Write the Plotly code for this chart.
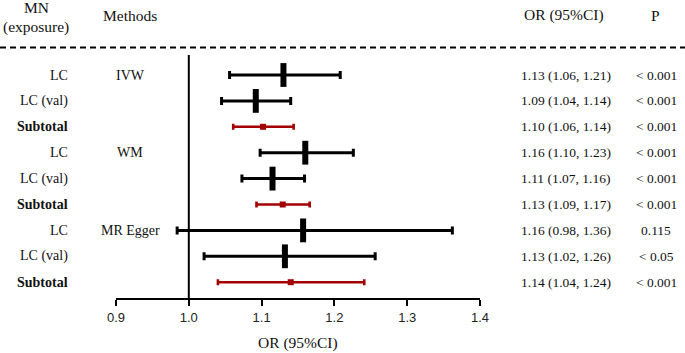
import plotly.graph_objects as go

# ---------------- data ----------------
exposure = ["LC", "LC (val)", "Subtotal", "LC", "LC (val)", "Subtotal", "LC", "LC (val)", "Subtotal"]
methods = ["IVW", "", "", "WM", "", "", "MR Egger", "", ""]
or_est = [1.130, 1.092, 1.102, 1.160, 1.115, 1.129, 1.157, 1.132, 1.140]
ci_low = [1.056, 1.045, 1.061, 1.098, 1.073, 1.093, 0.984, 1.021, 1.040]
ci_high = [1.208, 1.140, 1.144, 1.226, 1.159, 1.166, 1.362, 1.256, 1.241]
or_text = ["1.13 (1.06, 1.21)", "1.09 (1.04, 1.14)", "1.10 (1.06, 1.14)",
           "1.16 (1.10, 1.23)", "1.11 (1.07, 1.16)", "1.13 (1.09, 1.17)",
           "1.16 (0.98, 1.36)", "1.13 (1.02, 1.26)", "1.14 (1.04, 1.24)"]
p_text = ["< 0.001", "< 0.001", "< 0.001", "< 0.001", "< 0.001", "< 0.001",
          "0.115", "< 0.05", "< 0.001"]
tick_vals = [0.9, 1.0, 1.1, 1.2, 1.3, 1.4]
tick_text = ["0.9", "1.0", "1.1", "1.2", "1.3", "1.4"]

# ---------------- layout constants ----------------
W, H = 685, 353
ML, MR, MT, MB = 116, 205, 55, 55
PW, PH = W - ML - MR, H - MT - MB
RED = "#A30000"
TXT = "#111111"
SERIF = "Liberation Serif, Times New Roman, serif"
SANS = "Liberation Sans, Arial, sans-serif"


def px_x(px):
    return (px - ML) / PW


def px_y(py):
    return 1 - (py - MT) / PH


rows = list(range(1, len(exposure) + 1))
sub = [e == "Subtotal" for e in exposure]

fig = go.Figure()


def add_group(mask, color, thick, capw, marker):
    xs = [v for v, m in zip(or_est, mask) if m]
    ys = [r for r, m in zip(rows, mask) if m]
    plus = [h - v for v, h, m in zip(or_est, ci_high, mask) if m]
    minus = [v - l for v, l, m in zip(or_est, ci_low, mask) if m]
    fig.add_trace(go.Scatter(
        x=xs, y=ys, mode="markers", cliponaxis=False, showlegend=False,
        error_x=dict(type="data", symmetric=False, array=plus, arrayminus=minus,
                     color=color, thickness=thick, width=capw),
        marker=marker,
    ))


add_group([not s for s in sub], "black", 3, 4,
          dict(symbol="line-ns", size=17, line=dict(width=6, color="black"), color="black"))
add_group(sub, RED, 2.6, 3,
          dict(symbol="square", size=6, color=RED, line=dict(width=0)))

annotations = []
# left labels
for r, e, m in zip(rows, exposure, methods):
    annotations.append(dict(
        x=px_x(70), xref="paper", y=r, yref="y", xanchor="right", yanchor="middle",
        text=f"<b>{e}</b>" if e == "Subtotal" else e, showarrow=False,
        font=dict(family=SERIF, size=14, color=TXT)))
    if m:
        annotations.append(dict(
            x=px_x(130), xref="paper", y=r, yref="y", xanchor="center", yanchor="middle",
            text=m, showarrow=False, font=dict(family=SERIF, size=14, color=TXT)))
for r, o, p in zip(rows, or_text, p_text):
    annotations.append(dict(
        x=px_x(566), xref="paper", y=r, yref="y", xanchor="center", yanchor="middle",
        text=o, showarrow=False, font=dict(family=SERIF, size=13.5, color=TXT)))
    annotations.append(dict(
        x=px_x(656), xref="paper", y=r, yref="y", xanchor="center", yanchor="middle",
        text=p, showarrow=False, font=dict(family=SERIF, size=13.5, color=TXT)))

# headers
hdr_font = dict(family=SERIF, size=15.5, color=TXT)
for txt, xp, yp in [("MN", 36, 8), ("(exposure)", 36, 27), ("Methods", 130, 15),
                    ("OR (95%CI)", 564, 15), ("P", 655, 15)]:
    annotations.append(dict(x=px_x(xp), xref="paper", y=px_y(yp), yref="paper",
                            xanchor="center", yanchor="middle", text=txt,
                            showarrow=False, font=hdr_font))
# axis title
annotations.append(dict(x=0.5, xref="paper", y=px_y(343), yref="paper",
                        xanchor="center", yanchor="middle", text="OR (95%CI)",
                        showarrow=False, font=hdr_font))

shapes = [
    dict(type="line", xref="x", yref="paper", x0=1.0, x1=1.0, y0=0, y1=1,
         line=dict(color="black", width=2)),
    dict(type="line", xref="paper", yref="paper", x0=px_x(0), x1=px_x(W),
         y0=px_y(47.5), y1=px_y(47.5), line=dict(color="black", width=2, dash="6px,4px")),
]

fig.update_layout(
    width=W, height=H, margin=dict(l=ML, r=MR, t=MT, b=MB),
    paper_bgcolor="white", plot_bgcolor="white",
    xaxis=dict(range=[0.9, 1.4], tickvals=tick_vals, ticktext=tick_text,
               showline=True, linewidth=2, linecolor="black",
               ticks="outside", ticklen=6, tickwidth=2, tickcolor="black",
               showgrid=False, zeroline=False,
               tickfont=dict(family=SANS, size=13, color="#222222")),
    yaxis=dict(range=[9.61, 0.228], visible=False, showgrid=False, zeroline=False),
    annotations=annotations, shapes=shapes, showlegend=False,
)

fig.write_html("out.html", config={"displayModeBar": False},
               post_script="document.body.style.margin='0';document.body.style.overflow='hidden';")
